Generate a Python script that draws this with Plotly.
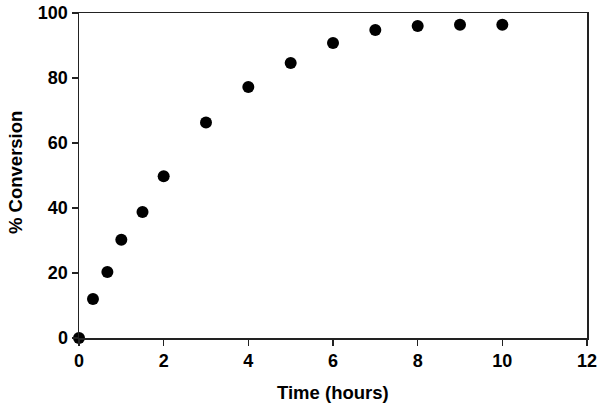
import plotly.graph_objects as go

time_hours = [0, 0.33, 0.67, 1, 1.5, 2, 3, 4, 5, 6, 7, 8, 9, 10]
conversion = [0, 12, 20.3, 30.2, 38.8, 49.8, 66.3, 77.2, 84.6, 90.8, 94.8, 96.0, 96.4, 96.4]
x_ticks = [0, 2, 4, 6, 8, 10, 12]
y_ticks = [0, 20, 40, 60, 80, 100]
x_title = "Time (hours)"
y_title = "% Conversion"

fig = go.Figure()
fig.add_trace(go.Scatter(
    x=time_hours, y=conversion, mode="markers",
    marker=dict(color="black", size=12),
    cliponaxis=False, showlegend=False, hoverinfo="skip",
))

font_family = "Liberation Sans, Arial, sans-serif"
L, R, T, B = 79, 15, 13, 70
fig.update_layout(
    width=602, height=408,
    margin=dict(l=L, r=R, t=T, b=B, autoexpand=False),
    paper_bgcolor="white", plot_bgcolor="white",
    font=dict(family=font_family, color="black"),
)
common = dict(
    ticks="outside", ticklen=6, tickwidth=1.5, tickcolor="#222",
    showline=True, linecolor="#222", linewidth=1.5, mirror=True,
    showgrid=False, zeroline=False, automargin=False,
    tickfont=dict(size=18, family=font_family, weight="bold", color="black"),
)
fig.update_xaxes(range=[0, 12], tickvals=x_ticks, **common)
fig.update_yaxes(range=[0, 100], tickvals=y_ticks, **common)

pw = 602 - L - R
ph = 408 - T - B
fig.add_annotation(
    text="<b>%s</b>" % x_title, xref="paper", yref="paper",
    x=(333 - L) / pw, y=(338 - 392) / ph, xanchor="center", yanchor="middle",
    showarrow=False, font=dict(size=18.5, family=font_family, color="black"),
)
fig.add_annotation(
    text="<b>%s</b>" % y_title, xref="paper", yref="paper",
    x=(15 - L) / pw, y=(338 - 173) / ph, xanchor="center", yanchor="middle",
    textangle=-90, showarrow=False,
    font=dict(size=18.5, family=font_family, color="black"),
)
fig.write_html(
    "out.html",
    config={"displayModeBar": False, "staticPlot": True},
    post_script="document.body.style.margin='0';document.body.style.overflow='hidden';",
)
